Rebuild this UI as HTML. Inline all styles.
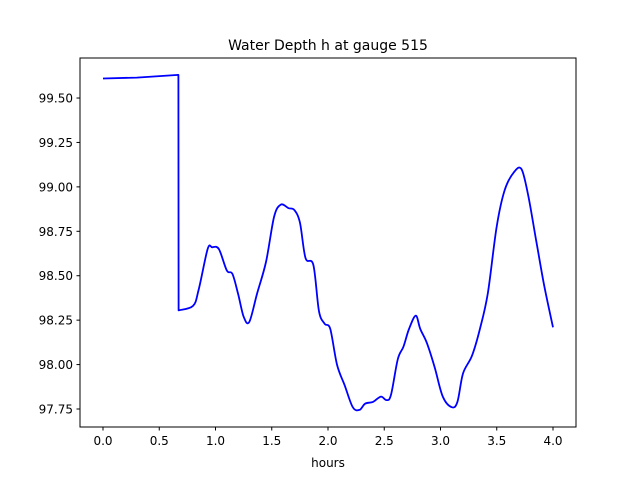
<!DOCTYPE html>
<html><head><meta charset="utf-8"><style>
body{margin:0;background:#fff;}
svg{display:block;font-family:"DejaVu Sans","Liberation Sans",sans-serif;}
</style></head><body>
<svg id="chart" width="640" height="480">
<rect width="640" height="480" fill="#fff"/>
<text x="328" y="50" text-anchor="middle" font-size="14">Water Depth h at gauge 515</text>
<g id="ticks"></g>
<path id="line" fill="none" stroke="#0000ff" stroke-width="1.8" stroke-linejoin="round"/>
<rect x="80" y="58" width="496" height="369" fill="none" stroke="#000" stroke-width="1"/>
<text x="328" y="467" text-anchor="middle" font-size="12">hours</text>
</svg>
<script>
const hours=[0,0.3,0.67,0.672,0.8,0.85,0.93,0.97,1.03,1.1,1.15,1.2,1.25,1.3,1.37,1.45,1.52,1.58,1.65,1.7,1.75,1.8,1.87,1.92,1.97,2.02,2.08,2.15,2.22,2.28,2.33,2.4,2.47,2.52,2.56,2.62,2.67,2.72,2.78,2.82,2.88,2.95,3.02,3.1,3.15,3.2,3.28,3.35,3.42,3.5,3.57,3.65,3.72,3.78,3.85,3.92,4.0];
const depth=[99.61,99.615,99.63,98.305,98.33,98.42,98.65,98.66,98.65,98.53,98.51,98.40,98.27,98.24,98.40,98.58,98.83,98.90,98.88,98.87,98.80,98.60,98.56,98.30,98.23,98.20,98.00,97.88,97.76,97.745,97.78,97.79,97.82,97.80,97.83,98.03,98.10,98.20,98.275,98.20,98.12,97.98,97.82,97.76,97.79,97.95,98.05,98.20,98.40,98.78,98.98,99.08,99.10,98.95,98.70,98.45,98.21];
const xTicks=[0,0.5,1,1.5,2,2.5,3,3.5,4];
const xTickLabels=["0.0","0.5","1.0","1.5","2.0","2.5","3.0","3.5","4.0"];
const yTicks=[97.75,98,98.25,98.5,98.75,99,99.25,99.5];
const yTickLabels=["97.75","98.00","98.25","98.50","98.75","99.00","99.25","99.50"];
const X=v=>103+v*112.5;
const Y=v=>409-(v-97.75)*177.7;
const NS="http://www.w3.org/2000/svg";
const g=document.getElementById('ticks');
function mk(t,a){const e=document.createElementNS(NS,t);for(const k in a)e.setAttribute(k,a[k]);g.appendChild(e);return e;}
xTicks.forEach((v,i)=>{
 const l=mk('line',{x1:X(v),x2:X(v),y1:427,y2:430.5,stroke:'#000'});
 
 
 const t=mk('text',{x:X(v),y:445,'text-anchor':'middle','font-size':12});
 t.textContent=xTickLabels[i];
 
 
});
yTicks.forEach((v,i)=>{
 const l=mk('line',{x1:76.5,x2:80,y1:Y(v),y2:Y(v),stroke:'#000'});
 
 
 const t=mk('text',{x:73,y:Y(v)+4.5,'text-anchor':'end','font-size':12});
 t.textContent=yTickLabels[i];
 
 
});
const P=hours.map((h,i)=>[X(h),Y(depth[i])]);
let d='M'+P[0][0].toFixed(1)+','+P[0][1].toFixed(1);
for(let i=1;i<P.length;i++){
 if(i<=3){d+='L'+P[i][0].toFixed(1)+','+P[i][1].toFixed(1);continue;}
 const p0=i-2>=3?P[i-2]:P[i-1],p1=P[i-1],p2=P[i],p3=P[i+1]||P[i];
 const c1=[p1[0]+(p2[0]-p0[0])/6,p1[1]+(p2[1]-p0[1])/6];
 const c2=[p2[0]-(p3[0]-p1[0])/6,p2[1]-(p3[1]-p1[1])/6];
 d+='C'+c1.map(v=>v.toFixed(1)).join(',')+' '+c2.map(v=>v.toFixed(1)).join(',')+' '+p2.map(v=>v.toFixed(1)).join(',');
}
document.getElementById('line').setAttribute('d',d);
</script>
</body></html>
